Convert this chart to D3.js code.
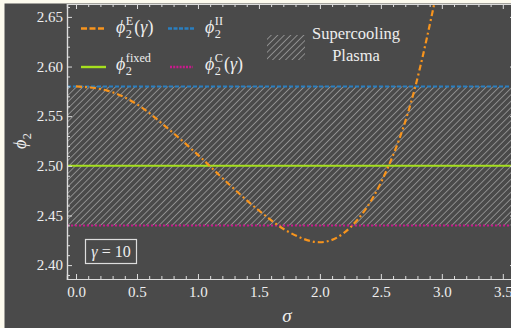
<!DOCTYPE html>
<html lang="en">
<head>
<meta charset="UTF-8">
<title>phi2 vs sigma</title>
<script src="https://d3js.org/d3.v7.min.js"></script>
<style>
    body { margin: 0; background: #fdfbee; }
    svg text { font-family: "Liberation Serif", "Times New Roman", Tinos, "DejaVu Serif", "Noto Serif", serif !important; fill: #eeeeee; }
</style>
</head>
<body>
<svg width="511" height="328"></svg>
<script>
    // values
    const sigma = [0, 0.25, 0.5, 0.75, 1.0, 1.25, 1.5, 1.75, 2.0, 2.25, 2.5, 2.75, 3.0];
    const phiE = [2.580, 2.576, 2.562, 2.538, 2.511, 2.482, 2.455, 2.433, 2.423, 2.438, 2.483, 2.565, 2.700];
    const phiII = 2.58;
    const phiFixed = 2.50;
    const phiC = 2.44;
    const xTicks = [0, 0.5, 1.0, 1.5, 2.0, 2.5, 3.0, 3.5];
    const yTicks = [2.40, 2.45, 2.50, 2.55, 2.60, 2.65];

    const svg = d3.select("svg");
    const W = 511, H = 328;

    // dark panel, leaving a thin cream strip top/left
    svg.append("rect").attr("x", 4.5).attr("y", 3.5).attr("width", W).attr("height", H)
        .attr("fill", "#4a4a4a");

    const x = d3.scaleLinear().domain([-0.074, 3.6]).range([67, 515]);
    const y = d3.scaleLinear().domain([2.386, 2.663]).range([279, 4]);
    const [x0, x1] = x.range(), [y0, y1] = y.range();

    const defs = svg.append("defs");
    defs.append("clipPath").attr("id", "clip")
        .append("rect").attr("x", x0).attr("y", y1).attr("width", x1 - x0).attr("height", y0 - y1);

    const hatch = defs.append("pattern").attr("id", "hatch")
        .attr("patternUnits", "userSpaceOnUse").attr("width", 4.6).attr("height", 4.6)
        .attr("patternTransform", "rotate(45)");
    hatch.append("line").attr("x1", 0).attr("y1", 0).attr("x2", 0).attr("y2", 4.6)
        .attr("stroke", "#a8a8a8").attr("stroke-width", 1.4);

    const plot = svg.append("g").attr("clip-path", "url(#clip)");

    // supercooling plasma band
    plot.append("rect")
        .attr("x", x0).attr("width", x1 - x0)
        .attr("y", y(phiII)).attr("height", y(phiC) - y(phiII))
        .attr("fill", "url(#hatch)");

    const hline = (v, color, dash, w) => plot.append("line")
        .attr("x1", x0).attr("x2", x1).attr("y1", y(v)).attr("y2", y(v))
        .attr("stroke", color).attr("stroke-width", w).attr("stroke-dasharray", dash);

    hline(phiFixed, "#a6e01e", null, 2);
    hline(phiII, "#2a7fc0", "4,2", 2);
    hline(phiC, "#c8198c", "2,2", 2);

    const line = d3.line().x((d, i) => x(sigma[i])).y(d => y(d)).curve(d3.curveMonotoneX);
    plot.append("path").datum(phiE)
        .attr("d", line).attr("fill", "none")
        .attr("stroke", "#f7941d").attr("stroke-width", 2.2)
        .attr("stroke-dasharray", "6,3,2,3");

    // frame with inward ticks
    const frameColor = "#dddddd";
    const styleAxis = g => {
        g.attr("font-family", null);
        g.select(".domain").attr("stroke", frameColor).attr("stroke-width", 1.2);
        g.selectAll(".tick line").attr("stroke", frameColor);
        g.selectAll(".tick text").attr("font-size", 15).attr("fill", "#eeeeee");
    };
    const xMinor = d3.range(0, 3.61, 0.1).filter(v => Math.abs(v * 2 - Math.round(v * 2)) > 1e-6);
    const yMinor = d3.range(2.39, 2.661, 0.01).filter(v => Math.abs(v * 20 - Math.round(v * 20)) > 1e-6);

    const addAxis = (axisFn, scale, ticks, minor, fmt, transform, labels, cls) => {
        svg.append("g").attr("transform", transform)
            .call(axisFn(scale).tickValues(minor).tickSize(-3).tickFormat(""))
            .call(styleAxis);
        svg.append("g").attr("class", cls).attr("transform", transform)
            .call(axisFn(scale).tickValues(ticks).tickSize(-5).tickPadding(labels ? 6 : 0)
                .tickFormat(labels ? d3.format(fmt) : ""))
            .call(styleAxis);
    };
    addAxis(d3.axisBottom, x, xTicks, xMinor, ".1f", `translate(0,${y0})`, true, "ax-x");
    addAxis(d3.axisTop, x, xTicks, xMinor, ".1f", `translate(0,${y1})`, false, "ax-top");
    addAxis(d3.axisLeft, y, yTicks, yMinor, ".2f", `translate(${x0},0)`, true, "ax-y");
    addAxis(d3.axisRight, y, yTicks, yMinor, ".2f", `translate(${x1},0)`, false, "ax-right");
    svg.selectAll(".ax-x .tick text").attr("dy", null).attr("y", 18);
    svg.selectAll(".ax-y .tick text").attr("x", -4).attr("dy", "0.32em");

    // math label helper: phi with stacked sub/superscript and trailing text
    const mathLabel = (g, px, py, sup, tail, size) => {
        const base = g.append("text").attr("x", px).attr("y", py)
            .attr("font-size", size).attr("font-style", "italic").text("\u03d5");
        const bw = base.node().getComputedTextLength();
        const sx = px + bw + 0.5;
        const sub = g.append("text").attr("x", sx).attr("y", py + size * 0.28)
            .attr("font-size", size * 0.68).text("2");
        let w = sub.node().getComputedTextLength();
        if (sup) {
            const s = g.append("text").attr("x", sx).attr("y", py - size * 0.45)
                .attr("font-size", size * 0.68).text(sup);
            w = Math.max(w, s.node().getComputedTextLength());
        }
        if (tail) {
            const t = g.append("text").attr("x", sx + w + 1).attr("y", py).attr("font-size", size);
            t.append("tspan").text("(");
            t.append("tspan").attr("font-style", "italic").text("\u03b3");
            t.append("tspan").text(")");
        }
    };

    // legend
    const leg = svg.append("g");
    const sample = (x1s, x2s, yy, color, dash) => leg.append("line")
        .attr("x1", x1s).attr("x2", x2s).attr("y1", yy).attr("y2", yy)
        .attr("stroke", color).attr("stroke-width", 2.4).attr("stroke-dasharray", dash);
    sample(81, 104, 28.5, "#f7941d", "6,2.5");
    sample(168, 195, 28.5, "#2a7fc0", "4,1.5");
    sample(81, 106, 67, "#a6e01e", null);
    sample(170, 193, 67, "#c8198c", "2,1.2");
    mathLabel(leg, 116, 33, "E", true, 18);
    mathLabel(leg, 205, 33, "II", false, 18);
    mathLabel(leg, 116, 70, "fixed", false, 18);
    mathLabel(leg, 205, 70, "C", true, 18);

    leg.append("rect").attr("x", 267).attr("y", 35).attr("width", 38).attr("height", 25)
        .attr("fill", "url(#hatch)");
    leg.append("text").attr("x", 356).attr("y", 39).attr("text-anchor", "middle")
        .attr("font-size", 16.5).text("Supercooling");
    leg.append("text").attr("x", 356).attr("y", 61).attr("text-anchor", "middle")
        .attr("font-size", 16.5).text("Plasma");

    // gamma box
    svg.append("rect").attr("x", 85.5).attr("y", 239.5).attr("width", 51).attr("height", 24)
        .attr("fill", "none").attr("stroke", "#dddddd").attr("stroke-width", 1.2);
    const gt = svg.append("text").attr("x", 111).attr("y", 257).attr("text-anchor", "middle")
        .attr("font-size", 16);
    gt.append("tspan").attr("font-style", "italic").text("\u03b3");
    gt.append("tspan").text(" = 10");

    // axis titles
    const yl = svg.append("g").attr("transform", "translate(26,141) rotate(-90)");
    mathLabel(yl, -8, 0, null, false, 18);
    svg.append("text").attr("x", 287).attr("y", 322).attr("text-anchor", "middle")
        .attr("font-size", 19).attr("font-style", "italic").text("\u03c3");
</script>
</body>
</html>
